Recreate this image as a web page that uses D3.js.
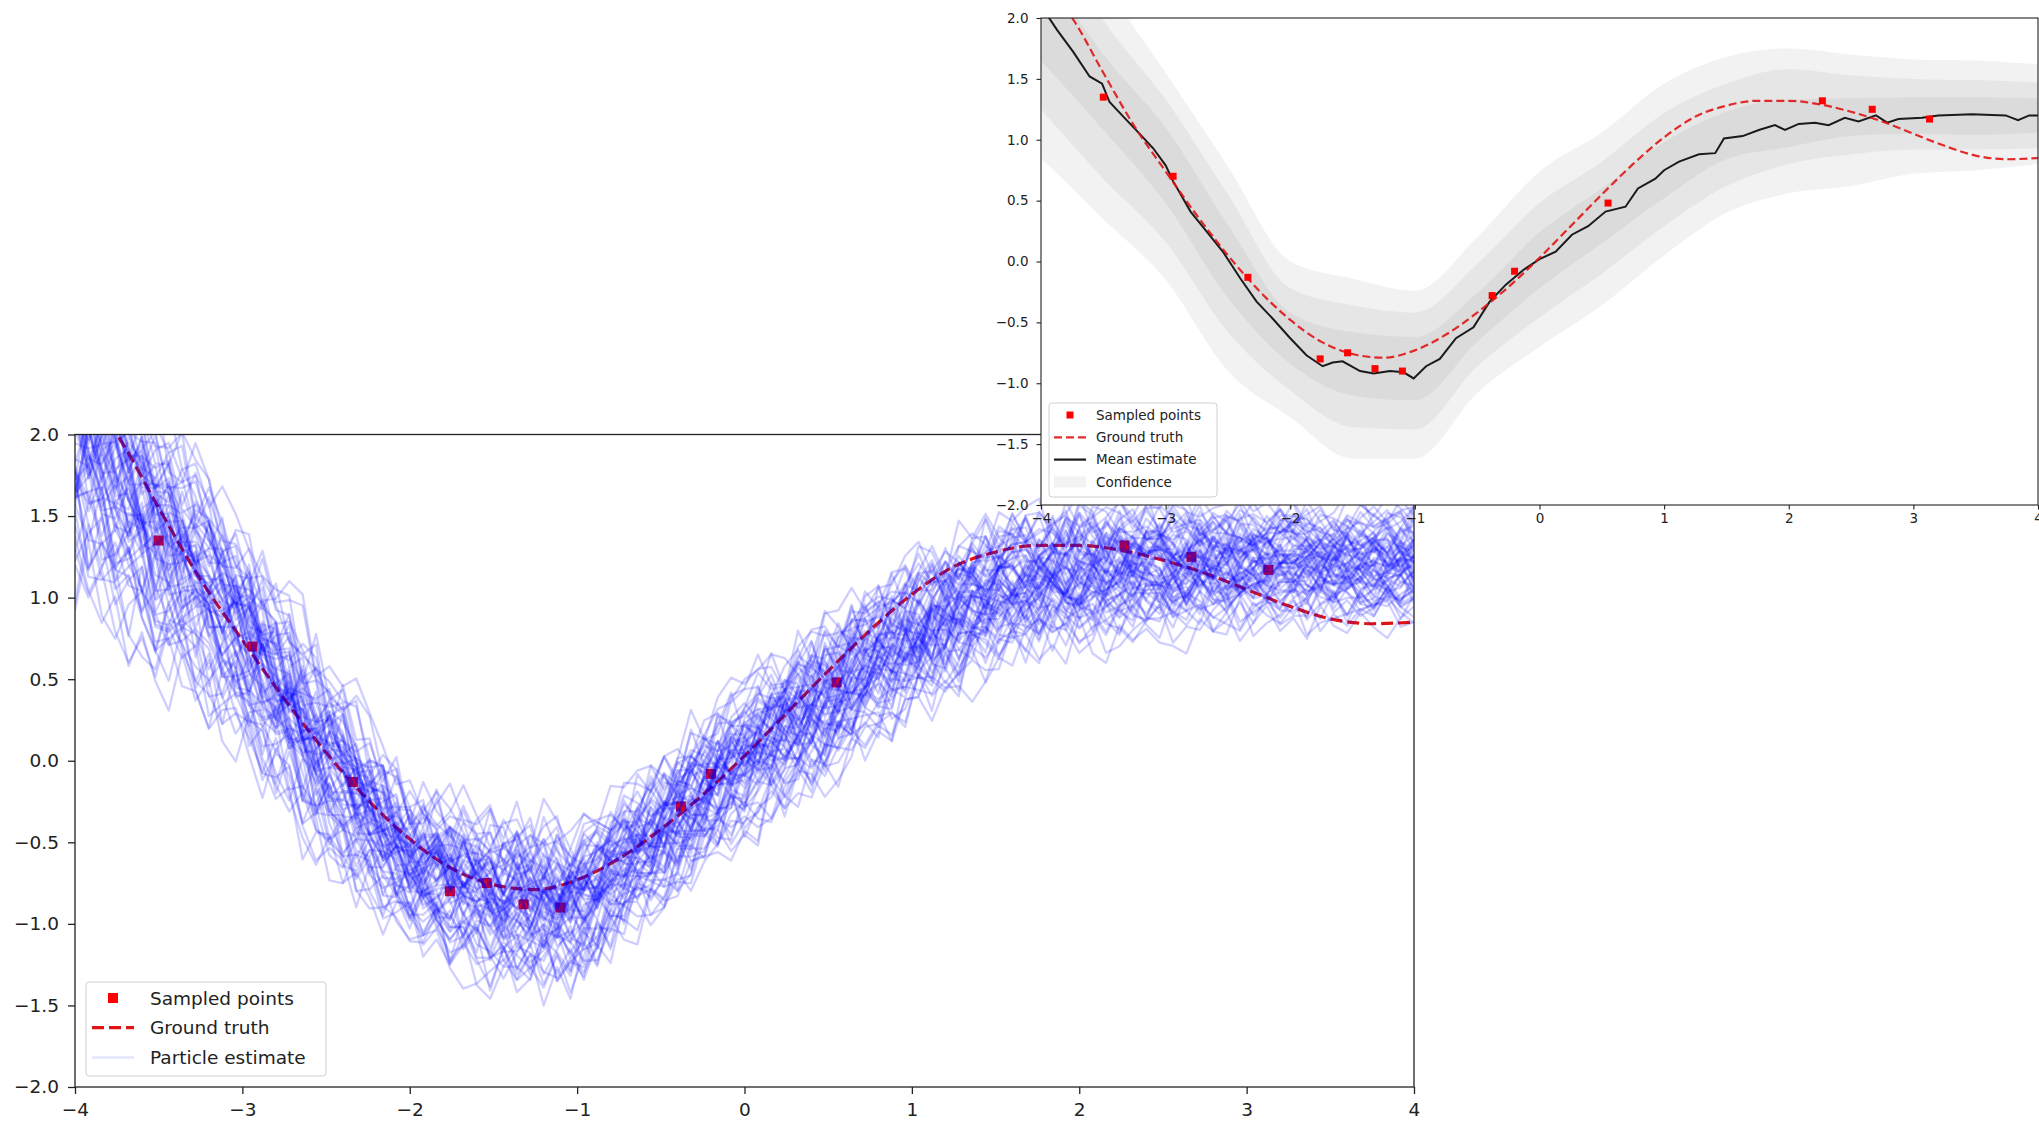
<!DOCTYPE html>
<html>
<head>
<meta charset="utf-8">
<script src="https://cdn.jsdelivr.net/npm/d3@7"></script>
<style>
  body { margin: 0; background: #fff; }
  svg { display: block; font-family: "DejaVu Sans", sans-serif; }
</style>
</head>
<body>
<div id="chart-area"></div>
<script>
// tick labels
var xTicks = [-4, -3, -2, -1, 0, 1, 2, 3, 4];
var yTicks = [-2, -1.5, -1, -0.5, 0, 0.5, 1, 1.5, 2];

// sampled points
var sampleX = [-3.50, -2.94, -2.34, -1.76, -1.54, -1.32, -1.10, -0.38, -0.20, 0.55, 2.27, 2.67, 3.13];
var sampleY = [1.35, 0.70, -0.13, -0.80, -0.75, -0.88, -0.90, -0.28, -0.08, 0.48, 1.32, 1.25, 1.17];

// ground truth
var truthX = [-4, -3.75, -3.5, -3.25, -3, -2.75, -2.5, -2.25, -2, -1.75, -1.5, -1.25, -1, -0.75, -0.5, -0.25,
              0, 0.25, 0.5, 0.75, 1, 1.25, 1.5, 1.75, 2, 2.25, 2.5, 2.75, 3, 3.25, 3.5, 3.75, 4];
var truthY = [2.30, 2.00, 1.55, 1.11, 0.74, 0.38, 0.05, -0.24, -0.48, -0.66, -0.76, -0.79, -0.73, -0.60, -0.42, -0.21,
              0.03, 0.29, 0.55, 0.80, 1.02, 1.19, 1.28, 1.32, 1.32, 1.29, 1.23, 1.15, 1.05, 0.95, 0.87, 0.84, 0.85];

// mean estimate (top panel, black line)
var meanX = [-4.0, -3.87, -3.74, -3.61, -3.51, -3.45, -3.33, -3.21, -3.10, -3.0, -2.94, -2.8, -2.67, -2.54, -2.40,
             -2.27, -2.14, -2.0, -1.87, -1.74, -1.66, -1.58, -1.44, -1.33, -1.20, -1.09, -1.01, -0.91, -0.80, -0.67,
             -0.53, -0.40, -0.27, -0.13, 0.0, 0.13, 0.26, 0.39, 0.53, 0.69, 0.79, 0.93, 1.0, 1.12, 1.28, 1.41, 1.48,
             1.63, 1.76, 1.89, 1.97, 2.08, 2.21, 2.32, 2.45, 2.56, 2.70, 2.79, 2.88, 3.07, 3.20, 3.47, 3.74, 3.84, 3.93, 4.0];
var meanY = [2.10, 1.90, 1.72, 1.52, 1.46, 1.31, 1.18, 1.05, 0.93, 0.79, 0.66, 0.41, 0.245, 0.08, -0.14,
             -0.33, -0.47, -0.63, -0.77, -0.86, -0.83, -0.82, -0.90, -0.92, -0.90, -0.91, -0.96, -0.86, -0.80, -0.63,
             -0.54, -0.33, -0.19, -0.07, 0.02, 0.08, 0.22, 0.29, 0.41, 0.45, 0.60, 0.68, 0.75, 0.82, 0.88, 0.89, 1.01,
             1.03, 1.08, 1.12, 1.08, 1.13, 1.14, 1.12, 1.18, 1.15, 1.20, 1.14, 1.17, 1.18, 1.20, 1.21, 1.20, 1.16, 1.20, 1.20];

// confidence bands (three levels)
var bandX    = [-4, -3.5, -3, -2.5, -2, -1.5, -1, -0.5, 0, 0.5, 1, 1.5, 2, 2.5, 3, 3.5, 4];
var outerLo  = [0.85, 0.35, -0.15, -0.90, -1.28, -1.62, -1.62, -1.08, -0.70, -0.36, 0.05, 0.40, 0.56, 0.62, 0.72, 0.75, 0.80];
var middleLo = [1.25, 0.68, 0.16, -0.58, -1.06, -1.36, -1.38, -0.86, -0.46, -0.10, 0.29, 0.62, 0.80, 0.88, 0.92, 0.92, 0.93];
var innerLo  = [1.65, 1.08, 0.48, -0.30, -0.84, -1.10, -1.14, -0.66, -0.22, 0.15, 0.52, 0.84, 0.94, 1.03, 1.05, 1.04, 1.06];
var innerHi  = [2.45, 1.70, 1.10, 0.30, -0.42, -0.58, -0.62, -0.26, 0.24, 0.60, 0.98, 1.23, 1.33, 1.34, 1.35, 1.35, 1.34];
var middleHi = [2.80, 1.98, 1.33, 0.55, -0.22, -0.36, -0.42, -0.02, 0.48, 0.82, 1.22, 1.46, 1.58, 1.53, 1.50, 1.49, 1.47];
var outerHi  = [3.15, 2.30, 1.55, 0.78, 0.00, -0.14, -0.24, 0.20, 0.74, 1.06, 1.46, 1.68, 1.75, 1.70, 1.66, 1.65, 1.62];

// particles: level at left / right end (in band units) and step jitter digits
var particleStart = [0.1, -0.6, 1.2, -1.4, 0.4, -0.2, 0.9, -1.0, 1.7, -2.1, 0.0, 0.6, -0.4, 1.4, -0.8, 2.2, -1.7, 0.3,
                     -0.1, 0.8, -1.2, 0.5, -0.5, 1.0, -2.4, 0.2, -0.9, 1.9, -0.3, 0.7, -1.5, 1.1, -0.7, 0.2, -1.1, 2.5,
                     -0.3, 0.9, -1.6, 0.5, 1.5, -0.7, 0.0, -2.0, 1.1, 0.3, -1.2, 2.0, -0.5, 0.7, -0.1, 1.3, -0.9, 0.4,
                     -1.4, 0.9, 0.2, -0.6, 1.8, -2.2, 0.6, -0.2, 1.0, -1.0, 0.1, 2.3, -0.4, -1.8, 0.8, -0.8, 1.6, 0.0];
var particleEnd = [-0.4, 0.7, 0.3, -1.8, 1.3, 0.5, -0.9, -0.1, 1.0, -1.3, 0.8, -0.6, 1.6, 0.2, -2.0, 1.1, -0.3, 2.3,
                   -1.1, 0.0, 0.6, -0.7, 1.9, -1.5, -0.2, 0.4, -2.5, 0.9, 1.4, -0.5, 0.1, -1.0, 2.0, -0.8, 0.7, 1.2,
                   0.6, -0.2, -0.9, 1.7, 0.4, -1.4, 0.9, -0.5, 2.1, -1.0, 0.2, 1.0, -2.2, 0.3, 1.2, -0.7, 0.6, -1.6,
                   0.0, 1.5, -0.4, 0.8, -1.2, 0.5, 1.8, -0.9, -0.3, 0.7, -1.9, 0.1, 2.4, -0.6, 1.1, 0.3, -0.1, -1.1];
var particleNoise = [
  "83169047255183960274492068137537091462858240631795177426803995160285341397028466852391074028617593480",
  "27504918366041729583019472658830261749505183627094419835762080561349278815066293704718253396401827754",
  "60392815477216058394813907262455081736990431286057527346109884062713355908246172943580619072481363925",
  "91548203677305819462286037159480724163950876215430309172864655281947031786502938419674205813396772841",
  "34086179522967403518809361275046158231973650482297041586339762015848325061979043126785542089637114809",
  "75231698040486315729915047286334970625118864205379602839147752806314196843502717592084463189250936472",
  "12967450388539012674460823915775184306922470693158840516729363071895248057426139981260437355982701648",
  "46805213799914275860375320641898163924572047815633092684150471936820754968213387560149245903781126590",
  "59374016282138764590947218536603859174214405932687760321849015527086435939160742853082614776049512387",
  "08216957341573098426619843572025748061939307261458842675013965183409627074512895361839702441586069713",
  "63490875122061843759784120695337905216484752096831069843157202415368990327584116082957434709621853860",
  "97153820466348917205509264381771062839545081736294236081547936975412080368419251739064802571953468127",
  "21876543095309128476641075829381254367906789402153318260947592047316588513927064029658431374102865790",
  "85042169733917560248026814937514379802656102495837734058612990261847355197043862480719536236918405471",
  "40718956228264037195597130842663048159271958320674411692758030548619736307289541580326917426804153928",
  "16594302877051847923388260159447392680515024761389676193052848703516929481607253362847091558932604174",
  "72360918544893026157702659841388514376203076492158859024613744158930627381704956260837419503649172085",
  "53827164099416580327365043928712039654817758203469041269837555397140286890152473616284095732460891356",
  "09465231788752309416832178405966149328057703581694254960137820786502419355239861074418579206632740519",
  "38914705626079461853544892730167205348619928463507131760294858507263991443085216762031948580429763127",
  "84176390255320867419617248359030689152473745093126686201597348829576401538146032975260791853473921608",
  "26059481733784520169908531674225379406817641720953390816245787349102564428610397535928730164160843792",
  "67238509144592836170281046957363158240796209574831612385609477402619835567910423849831067582250396471",
  "10983746525647101938873216049554092637815382650179944607318262130975548409658137106723498529681402735",
  "95371620848219537068364079152810587436292731086459540268173948615029763726318405917094251863382750914",
  "31640857297968314025520397684168245097312549076318863180459276027934581641753869201586903427759416208",
  "78512046396435097812217683950424937160585860143972309528617463761540289835192074632074815936194273058",
  "42097365811079283456683514290735160942876219504873341289765028947012635576390821450163288459710236947",
  "03758192644816209357991430682751762038495336179584020481723669205916378814357290622870143958563015829",
  "69284017353502769148406829375190134756822787190346512693015847708542396135917608434086521379219764058",
  "15836942705273410896628957041383904756219041629853772465810938560372184919207346548316079252734581690",
  "87420569318649127305053614780929867302451573049862182910437695541928603768365201949276054133802769514",
  "24169703586830964217414587023696021538479956718304265840927136179354802507842631983417506299065314728",
  "50693281746197856430237260149585413907268834056921749602713585627049381364180953728052471693976834102",
  "76325084919450217638681394725066238541970217845393065489621743106359287814059724360392817458531670942",
  "38901467252764038915597526103840451962738676039215482130879465893025164701946875232417805319658324071"
];

var W = 2039, H = 1121;

var svg = d3.select("#chart-area")
    .append("svg")
        .attr("width", W)
        .attr("height", H);

var defs = svg.append("defs");

function addClip(id, box) {
    defs.append("clipPath").attr("id", id)
        .append("rect")
            .attr("x", box.left).attr("y", box.top)
            .attr("width", box.right - box.left)
            .attr("height", box.bottom - box.top);
}

function drawAxes(g, box, x, y, o) {
    var xAxisCall = d3.axisBottom(x).tickValues(xTicks).tickFormat(d3.format("d"))
        .tickSize(o.tick).tickPadding(o.xpad);
    var yAxisCall = d3.axisLeft(y).tickValues(yTicks).tickFormat(d3.format(".1f"))
        .tickSize(o.tick).tickPadding(o.ypad);

    var xa = g.append("g")
        .attr("transform", "translate(0," + box.bottom + ")")
        .call(xAxisCall);
    var ya = g.append("g")
        .attr("transform", "translate(" + box.left + ",0)")
        .call(yAxisCall);

    [xa, ya].forEach(function(a) {
        a.select(".domain").remove();
        a.selectAll("line").attr("stroke", "#222").attr("stroke-width", o.spine);
        a.selectAll("text")
            .attr("fill", "#222")
            .attr("font-size", o.font + "px")
            .attr("font-family", "DejaVu Sans, sans-serif");
    });

    g.append("rect")
        .attr("x", box.left).attr("y", box.top)
        .attr("width", box.right - box.left)
        .attr("height", box.bottom - box.top)
        .attr("fill", "none")
        .attr("stroke", "#222")
        .attr("stroke-width", o.spine);
}

function drawLegend(g, lx, ly, lw, lh, rows, o) {
    g.append("rect")
        .attr("x", lx).attr("y", ly).attr("width", lw).attr("height", lh)
        .attr("rx", 3)
        .attr("fill", "#fff").attr("fill-opacity", 0.8)
        .attr("stroke", "#d0d0d0").attr("stroke-width", 1);

    rows.forEach(function(r, i) {
        var cy = ly + o.first + i * o.step;
        if (r.kind === "marker") {
            g.append("rect")
                .attr("x", o.h0 + (o.h1 - o.h0) / 2 - o.marker / 2)
                .attr("y", cy - o.marker / 2)
                .attr("width", o.marker).attr("height", o.marker)
                .attr("fill", "red");
        } else if (r.kind === "patch") {
            g.append("rect")
                .attr("x", o.h0).attr("y", cy - o.patch / 2)
                .attr("width", o.h1 - o.h0).attr("height", o.patch)
                .attr("fill", "#808080").attr("fill-opacity", 0.1);
        } else {
            g.append("line")
                .attr("x1", o.h0).attr("x2", o.h1)
                .attr("y1", cy).attr("y2", cy)
                .attr("stroke", r.color)
                .attr("stroke-opacity", r.opacity)
                .attr("stroke-width", r.width)
                .attr("stroke-dasharray", r.dash || null);
        }
        g.append("text")
            .attr("x", o.text).attr("y", cy)
            .attr("dy", "0.36em")
            .attr("font-size", o.font + "px")
            .attr("fill", "#222")
            .text(r.label);
    });
}

// ---------------- bottom panel: particles ----------------
var big = {left: 75, right: 1414, top: 434.5, bottom: 1087};
var xb = d3.scaleLinear().domain([-4, 4]).range([big.left, big.right]);
var yb = d3.scaleLinear().domain([-2, 2]).range([big.bottom, big.top]);
addClip("clip-big", big);

var gb = svg.append("g");
var plotB = gb.append("g").attr("clip-path", "url(#clip-big)");

plotB.selectAll("rect.sample")
    .data(d3.zip(sampleX, sampleY))
    .enter()
    .append("rect")
        .attr("class", "sample")
        .attr("x", (d) => xb(d[0]) - 5)
        .attr("y", (d) => yb(d[1]) - 5)
        .attr("width", 10)
        .attr("height", 10)
        .attr("fill", "red");

var truthLineB = d3.line()
    .x((d) => xb(d[0]))
    .y((d) => yb(d[1]))
    .curve(d3.curveMonotoneX);

plotB.append("path")
    .datum(d3.zip(truthX, truthY))
    .attr("d", truthLineB)
    .attr("fill", "none")
    .attr("stroke", "#e01414")
    .attr("stroke-width", 3.2)
    .attr("stroke-dasharray", "12,5");

// particle lines built from the band levels plus their jitter digits
var centre = d3.scaleLinear().domain(bandX).range(bandX.map((v, i) => (innerLo[i] + innerHi[i]) / 2));
var upper = d3.scaleLinear().domain(bandX).range(outerHi);
var lower = d3.scaleLinear().domain(bandX).range(outerLo);
var gridX = d3.range(101).map((i) => -4 + 0.08 * i);
var nNoise = particleNoise.length;

var particles = particleStart.map((z0, p) => {
    var s = particleNoise[p % nNoise];
    var backwards = p >= nNoise;   // second set reads its digits from the other end
    return gridX.map((x, i) => {
        var z = z0 + (particleEnd[p] - z0) * i / 100;
        var c = centre(x);
        var spread = z >= 0 ? (upper(x) - c) / 3 : (c - lower(x)) / 3;
        var sigma = (upper(x) - lower(x)) / 6;
        var k = backwards ? s.length - 1 - (i % s.length) : i % s.length;
        var n = (s.charCodeAt(k) - 48 - 4.5) / 4.5;
        return [x, c + z * spread + n * 0.75 * sigma];
    });
});

var particleLine = d3.line()
    .x((d) => xb(d[0]))
    .y((d) => yb(d[1]));

plotB.selectAll("path.particle")
    .data(particles)
    .enter()
    .append("path")
        .attr("class", "particle")
        .attr("d", particleLine)
        .attr("fill", "none")
        .attr("stroke", "#0000ff")
        .attr("stroke-opacity", 0.19)
        .attr("stroke-width", 2.3)
        .attr("stroke-linejoin", "round");

drawAxes(gb, big, xb, yb, {tick: 7, xpad: 9, ypad: 9, font: 18.5, spine: 1.3});

drawLegend(gb, 86, 982, 240, 94, [
    {kind: "marker", label: "Sampled points"},
    {kind: "line", label: "Ground truth", color: "#e01414", opacity: 1, width: 3.2, dash: "12,5"},
    {kind: "line", label: "Particle estimate", color: "#0000ff", opacity: 0.1, width: 2.5}
], {first: 16, step: 29.7, h0: 92, h1: 134, text: 150, marker: 10, patch: 14, font: 18.5});

// ---------------- top panel: mean and confidence ----------------
var small = {left: 1041, right: 2038, top: 18, bottom: 505};
var xs = d3.scaleLinear().domain([-4, 4]).range([small.left, small.right]);
var ys = d3.scaleLinear().domain([-2, 2]).range([small.bottom, small.top]);
addClip("clip-small", small);

var gs = svg.append("g");
gs.append("rect")
    .attr("x", small.left).attr("y", small.top)
    .attr("width", small.right - small.left)
    .attr("height", small.bottom - small.top)
    .attr("fill", "#fff");

var plotS = gs.append("g").attr("clip-path", "url(#clip-small)");

var bands = [[outerLo, outerHi], [middleLo, middleHi], [innerLo, innerHi]];
var bandArea = d3.area()
    .x((d) => xs(d[0]))
    .y0((d) => ys(d[1]))
    .y1((d) => ys(d[2]))
    .curve(d3.curveMonotoneX);

plotS.selectAll("path.band")
    .data(bands.map((b) => d3.zip(bandX, b[0], b[1])))
    .enter()
    .append("path")
        .attr("class", "band")
        .attr("d", bandArea)
        .attr("fill", "#808080")
        .attr("fill-opacity", 0.1);

plotS.append("path")
    .datum(d3.zip(meanX, meanY))
    .attr("d", d3.line().x((d) => xs(d[0])).y((d) => ys(d[1])))
    .attr("fill", "none")
    .attr("stroke", "#1a1a1a")
    .attr("stroke-width", 2);

plotS.append("path")
    .datum(d3.zip(truthX, truthY))
    .attr("d", d3.line().x((d) => xs(d[0])).y((d) => ys(d[1])).curve(d3.curveMonotoneX))
    .attr("fill", "none")
    .attr("stroke", "#e01414")
    .attr("stroke-opacity", 0.9)
    .attr("stroke-width", 2.2)
    .attr("stroke-dasharray", "8,4");

plotS.selectAll("rect.sample")
    .data(d3.zip(sampleX, sampleY))
    .enter()
    .append("rect")
        .attr("class", "sample")
        .attr("x", (d) => xs(d[0]) - 3.5)
        .attr("y", (d) => ys(d[1]) - 3.5)
        .attr("width", 7)
        .attr("height", 7)
        .attr("fill", "red");

drawAxes(gs, small, xs, ys, {tick: 4.5, xpad: 4, ypad: 8, font: 13.5, spine: 1.1});

drawLegend(gs, 1049, 403, 168, 94, [
    {kind: "marker", label: "Sampled points"},
    {kind: "line", label: "Ground truth", color: "#e01414", opacity: 0.9, width: 2.2, dash: "8,4"},
    {kind: "line", label: "Mean estimate", color: "#1a1a1a", opacity: 1, width: 2.2},
    {kind: "patch", label: "Confidence"}
], {first: 12, step: 22.3, h0: 1054, h1: 1086, text: 1096, marker: 7, patch: 11, font: 13.5});
</script>
</body>
</html>
